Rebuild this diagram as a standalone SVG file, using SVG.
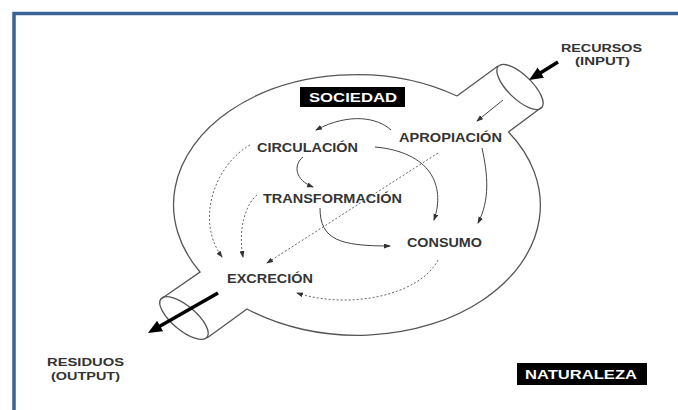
<svg xmlns="http://www.w3.org/2000/svg" width="678" height="410" viewBox="0 0 678 410">
<style>
.lbl{font-family:"Liberation Sans",Arial,sans-serif;font-weight:bold;fill:#333;font-size:12.5px}
.ext{font-family:"Liberation Sans",Arial,sans-serif;font-weight:bold;fill:#333;font-size:11.5px;text-anchor:middle}
.box{fill:#000}
.wt{font-family:"Liberation Sans",Arial,sans-serif;font-weight:bold;fill:#fff;font-size:12px}
.outline{fill:none;stroke:#555;stroke-width:1.3}
.solid{fill:none;stroke:#444;stroke-width:1;marker-end:url(#ah)}
.dot{fill:none;stroke:#666;stroke-width:1;stroke-dasharray:2 2;marker-end:url(#ah)}
.thick{fill:none;stroke:#000;stroke-width:3.5;marker-end:url(#big)}
</style>
<defs>
<marker id="ah" markerUnits="userSpaceOnUse" markerWidth="8" markerHeight="6" refX="6" refY="2.5" orient="auto"><path d="M0,0 L7,2.5 L0,5 z" fill="#333"/></marker>
<marker id="big" markerUnits="userSpaceOnUse" markerWidth="15" markerHeight="13" refX="6" refY="6" orient="auto"><path d="M0,0 L14,6 L0,12 z" fill="#000"/></marker>
</defs>
<rect x="0" y="0" width="678" height="410" fill="#fff"/>
<rect x="14" y="13.5" width="700" height="440" fill="#fff" stroke="#3b6297" stroke-width="3.5"/>

<g id="body">
<path class="outline" d="M457,96 A183,130 0 0 0 200,272 L161,299 M207,338 L247,309 A183,130 0 0 0 508.5,132 L542,107 M498,66 L457,96"/>
<ellipse class="outline" cx="520" cy="87" rx="30" ry="12" transform="rotate(44 520 87)"/>
<ellipse class="outline" cx="184" cy="318" rx="30" ry="12" transform="rotate(40 184 318)"/>
</g>

<g id="sociedad"><rect class="box" x="300" y="87" width="105" height="20"/><text class="wt" x="309" y="102" textLength="88" lengthAdjust="spacingAndGlyphs">SOCIEDAD</text></g>
<g id="naturaleza"><rect class="box" x="517" y="363" width="130" height="22"/><text class="wt" x="525" y="379" textLength="112" lengthAdjust="spacingAndGlyphs">NATURALEZA</text></g>
<g id="recursos"><text class="ext" x="601.5" y="52" textLength="81" lengthAdjust="spacingAndGlyphs">RECURSOS</text><text class="ext" x="602.5" y="65" textLength="55" lengthAdjust="spacingAndGlyphs">(INPUT)</text></g>
<g id="residuos"><text class="ext" x="85.5" y="366" textLength="77" lengthAdjust="spacingAndGlyphs">RESIDUOS</text><text class="ext" x="85.5" y="380" textLength="69" lengthAdjust="spacingAndGlyphs">(OUTPUT)</text></g>
<g id="apropiacion"><text class="lbl" x="399" y="142" textLength="103" lengthAdjust="spacingAndGlyphs">APROPIACIÓN</text></g>
<g id="circulacion"><text class="lbl" x="257" y="152" textLength="101" lengthAdjust="spacingAndGlyphs">CIRCULACIÓN</text></g>
<g id="transformacion"><text class="lbl" x="263" y="203" textLength="139" lengthAdjust="spacingAndGlyphs">TRANSFORMACIÓN</text></g>
<g id="consumo"><text class="lbl" x="407" y="247" textLength="75" lengthAdjust="spacingAndGlyphs">CONSUMO</text></g>
<g id="excrecion"><text class="lbl" x="227" y="283" textLength="86" lengthAdjust="spacingAndGlyphs">EXCRECIÓN</text></g>

<g id="connectors">
<path class="thick" d="M558,62 L535.8,75.8"/>
<path class="thick" d="M218,293 L154.9,329"/>
<path class="solid" d="M503,100 L477,121"/>
<path class="solid" d="M391,130 C378,118 350,112 316,130"/>
<path class="solid" d="M375,147 C430,152 446,185 434,220"/>
<path class="solid" d="M482,148 C488,175 490,200 478,223"/>
<path class="solid" d="M303,157 C293,165 295,180 313,187"/>
<path class="solid" d="M320,208 C320,240 340,246 390,246"/>
<path class="dot" d="M438,153 L267,263"/>
<path class="dot" d="M250,145 C215,165 195,220 222,257"/>
<path class="dot" d="M257,195 C245,205 238,230 243,257"/>
<path class="dot" d="M438,260 C420,295 350,310 297,293"/>
</g>
</svg>
